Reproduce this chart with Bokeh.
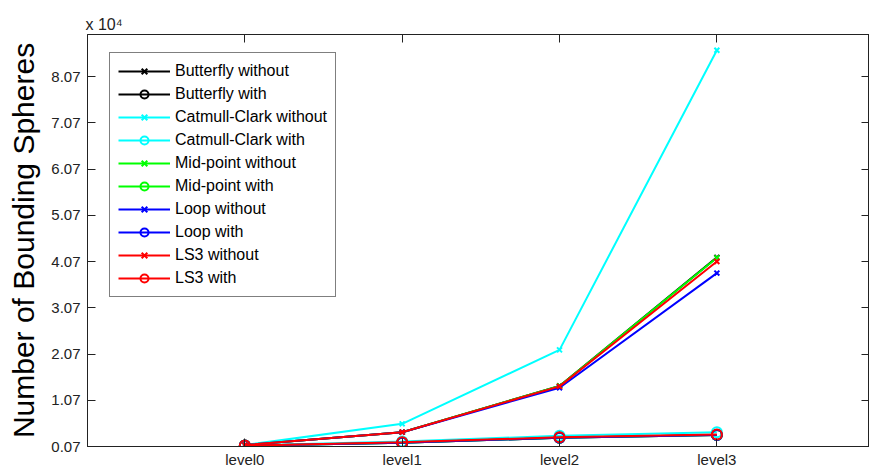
import numpy as np
from bokeh.plotting import figure
from bokeh.models import (Range1d, FixedTicker, LinearAxis, Legend, LegendItem,
                          CustomLabelingPolicy)
from bokeh.embed import file_html
from bokeh.resources import INLINE

# ---- data ----
levels = ["level0", "level1", "level2", "level3"]
butterfly_without = [1000, 3800, 13800, 41600]
butterfly_with = [900, 1500, 2600, 3200]
catmull_without = [1000, 5600, 21600, 86400]
catmull_with = [900, 1800, 3000, 3800]
midpoint_without = [1000, 3800, 13800, 41500]
midpoint_with = [900, 1500, 2600, 3200]
loop_without = [1000, 3800, 13400, 38200]
loop_with = [900, 1500, 2600, 3200]
ls3_without = [1000, 3800, 13700, 40700]
ls3_with = [900, 1600, 2700, 3300]

series = [
    ("Butterfly without", butterfly_without, "black", "x"),
    ("Butterfly with", butterfly_with, "black", "circle"),
    ("Catmull-Clark without", catmull_without, "#00FFFF", "x"),
    ("Catmull-Clark with", catmull_with, "#00FFFF", "circle"),
    ("Mid-point without", midpoint_without, "#00FF00", "x"),
    ("Mid-point with", midpoint_with, "#00FF00", "circle"),
    ("Loop without", loop_without, "#0000FF", "x"),
    ("Loop with", loop_with, "#0000FF", "circle"),
    ("LS3 without", ls3_without, "#FF0000", "x"),
    ("LS3 with", ls3_with, "#FF0000", "circle"),
]

y_ticks = [700 + 10000 * k for k in range(9)]
y_tick_labels = ["%.2f" % (t / 10000) for t in y_ticks]

FONT = "Liberation Sans"
AX = "#222222"

x = list(range(1, len(levels) + 1))

p = figure(width=869, height=470, output_backend="svg", toolbar_location=None,
           x_range=Range1d(0, 4.97), y_range=Range1d(700, 89800),
           min_border_left=87, min_border_right=0, min_border_top=34, min_border_bottom=24,
           background_fill_color="white", border_fill_color="white")
p.xgrid.visible = False
p.ygrid.visible = False
p.outline_line_color = AX
p.outline_line_width = 1

# multiplier "x 10^4" above the y axis
p.title.text = "x 10\u2074"
p.title.align = "left"
p.title.offset = -2
p.title.standoff = 3
p.title.text_font = FONT
p.title.text_font_size = "16px"
p.title.text_font_style = "normal"
p.title.text_color = AX

def style_axis(ax, show_labels=True):
    ax.axis_line_color = AX
    ax.axis_line_width = 1
    ax.major_tick_in = 8
    ax.major_tick_out = 0
    ax.major_tick_line_color = AX
    ax.major_tick_line_width = 1
    ax.minor_tick_line_color = None
    ax.major_label_text_font = FONT
    ax.major_label_text_font_size = "15px"
    ax.major_label_text_color = AX
    if not show_labels:
        ax.major_label_standoff = 0
        ax.major_label_text_font_size = "0px"
        ax.major_label_policy = CustomLabelingPolicy(
            code="for (let i = 0; i < indices.size; i++) { indices.unset(i) }\nreturn indices")

# bottom axis
xa = p.xaxis[0]
xa.ticker = FixedTicker(ticks=x)
xa.major_label_overrides = {i: lab for i, lab in zip(x, levels)}
style_axis(xa)
xa.major_label_standoff = 4

# left axis
ya = p.yaxis[0]
ya.ticker = FixedTicker(ticks=y_ticks)
ya.major_label_overrides = {t: lab for t, lab in zip(y_ticks, y_tick_labels)}
style_axis(ya)
ya.major_label_standoff = 7
ya.axis_label = "Number of Bounding Spheres"
ya.axis_label_text_font = FONT
ya.axis_label_text_font_size = "30px"
ya.axis_label_text_font_style = "normal"
ya.axis_label_text_color = "black"
ya.axis_label_standoff = 8

# top and right axes (ticks only)
top = LinearAxis(ticker=FixedTicker(ticks=x))
style_axis(top, show_labels=False)
p.add_layout(top, "above")
right = LinearAxis(ticker=FixedTicker(ticks=y_ticks))
style_axis(right, show_labels=False)
p.add_layout(right, "right")

items = []
for name, vals, color, marker in series:
    r_line = p.line(x, vals, line_color=color, line_width=2)
    if marker == "x":
        r_mk = p.scatter(x, vals, marker="x", size=7, line_color=color, line_width=2)
    else:
        r_mk = p.scatter(x, vals, marker="circle", size=10, line_color=color,
                         fill_color=None, line_width=2)
    items.append(LegendItem(label=name, renderers=[r_line, r_mk]))

legend = Legend(items=items, location=(22, 149))
legend.label_text_font = FONT
legend.label_text_font_size = "16px"
legend.label_text_color = "black"
legend.glyph_width = 52
legend.glyph_height = 20
legend.label_height = 20
legend.label_standoff = 5
legend.spacing = 3
legend.padding = 8
legend.border_line_color = "black"
legend.border_line_width = 1
legend.background_fill_color = "white"
legend.background_fill_alpha = 1
legend.click_policy = "none"
p.add_layout(legend, "center")

open("out.html", "w").write(file_html(p, INLINE))
